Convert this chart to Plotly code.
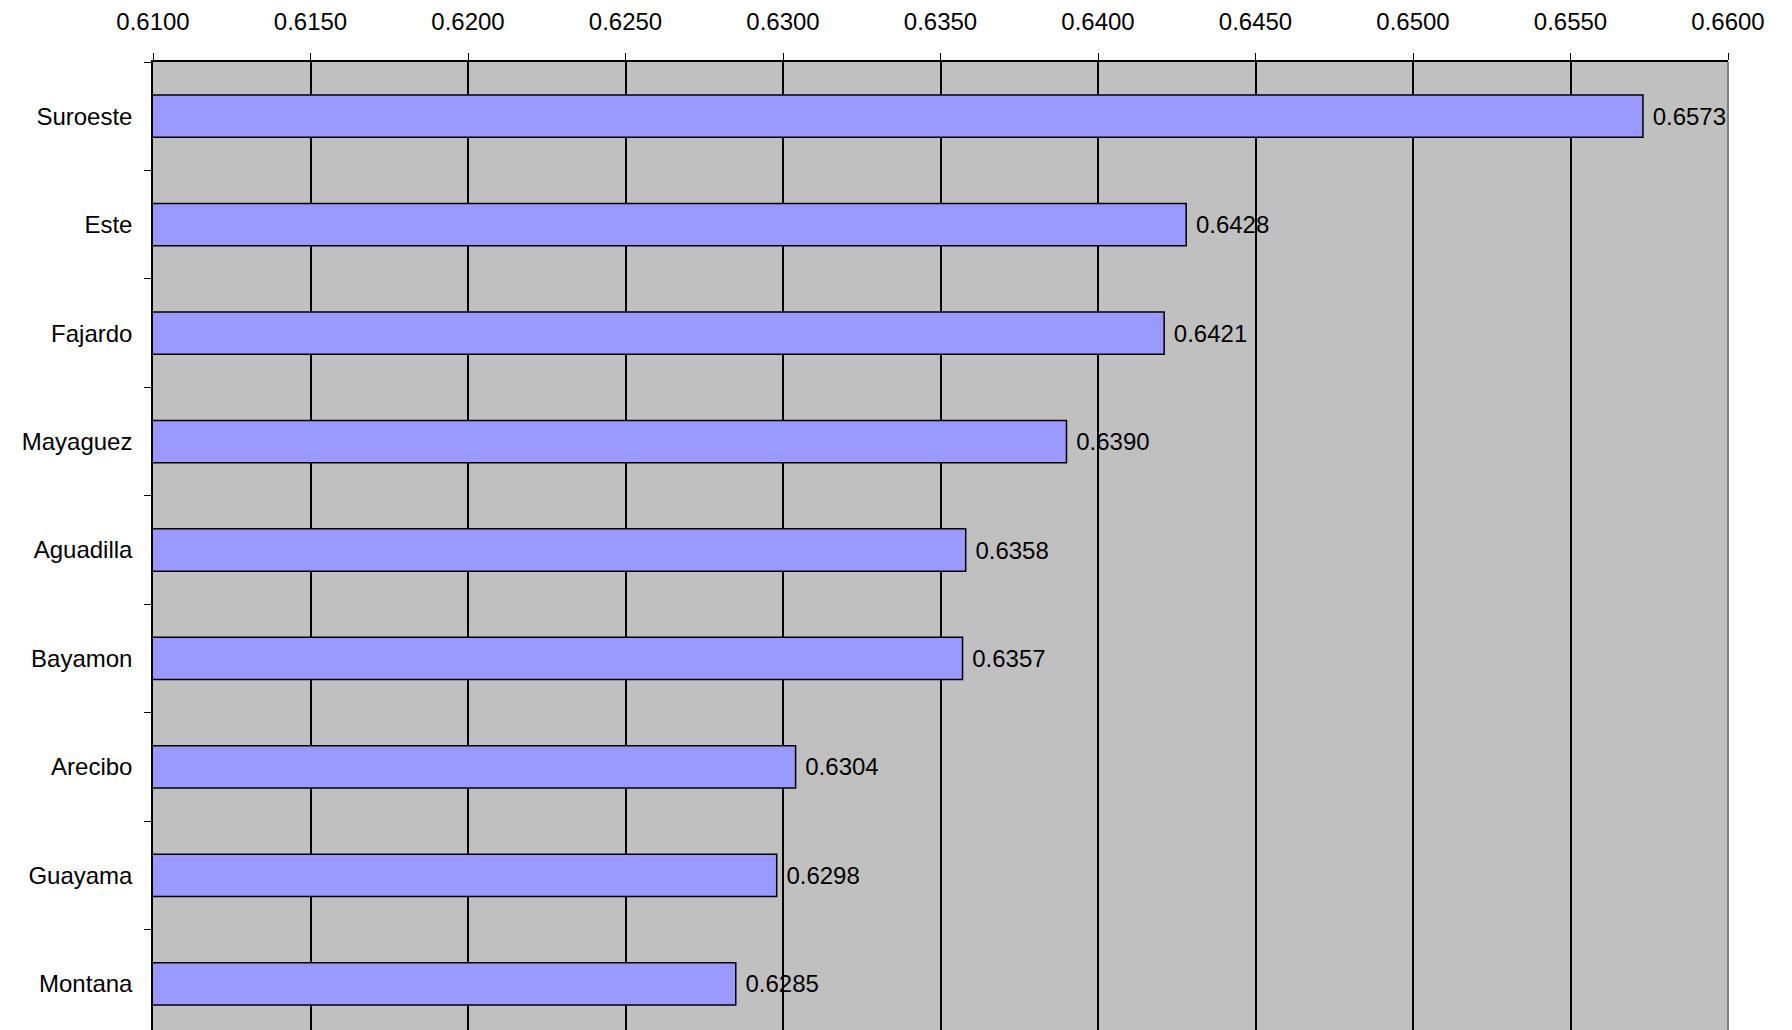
import plotly.graph_objects as go

regions = ["Suroeste", "Este", "Fajardo", "Mayaguez", "Aguadilla",
           "Bayamon", "Arecibo", "Guayama", "Montana"]
values = [0.6573, 0.6428, 0.6421, 0.6390, 0.6358, 0.6357, 0.6304, 0.6298, 0.6285]
tick_vals = [0.61 + 0.005 * i for i in range(11)]

fig = go.Figure(
    go.Bar(
        x=values,
        y=regions,
        orientation="h",
        width=0.39,
        marker={"color": "#9999FF", "line": {"color": "black", "width": 1.5}},
        text=[f" {v:.4f}" for v in values],
        textposition="outside",
        textfont={"size": 24, "color": "black"},
        cliponaxis=False,
    )
)

fig.update_layout(
    width=1792,
    height=1030,
    margin={"l": 145, "r": 72, "t": 52, "b": 0},
    paper_bgcolor="white",
    plot_bgcolor="#C0C0C0",
    font={"family": "Liberation Sans, Arial", "size": 24, "color": "black"},
    showlegend=False,
    bargap=0.61,
)
fig.add_shape(type="line", xref="paper", yref="paper", x0=1, x1=1, y0=0, y1=1,
              line={"color": "#808080", "width": 2})
fig.update_xaxes(
    side="top",
    range=[0.61, 0.66],
    tickvals=tick_vals,
    tickformat=".4f",
    showgrid=True,
    gridcolor="black",
    gridwidth=1.5,
    ticks="outside",
    ticklen=7,
    tickcolor="black",
    showline=True,
    linecolor="black",
    linewidth=1.5,
    zeroline=False,
    ticklabelstandoff=14,
)
fig.update_yaxes(
    autorange="reversed",
    ticks="outside",
    ticklen=7,
    tickcolor="black",
    tickson="boundaries",
    showgrid=False,
    showline=True,
    linecolor="black",
    linewidth=1.5,
    ticklabelstandoff=14,
)
fig.write_html("out.html")
